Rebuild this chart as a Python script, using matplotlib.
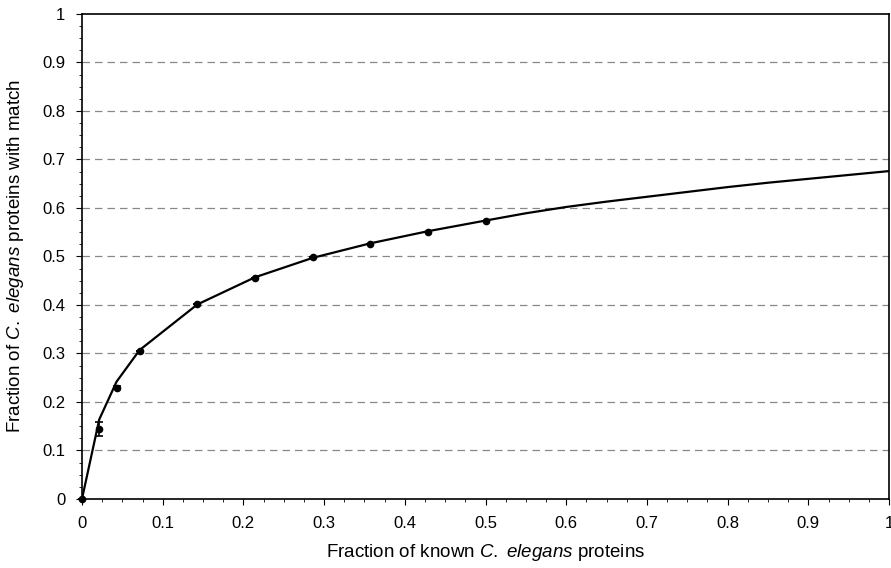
import numpy as np
import matplotlib
matplotlib.use("Agg")
import matplotlib.pyplot as plt
from matplotlib.ticker import MultipleLocator, FuncFormatter

# measured points (fraction of known proteins vs fraction with match)
pts_x = [0.0, 0.0214, 0.0429, 0.0714, 0.1429, 0.2143, 0.2857, 0.3571, 0.4286, 0.5]
pts_y = [0.0, 0.144, 0.229, 0.305, 0.401, 0.456, 0.498, 0.526, 0.551, 0.573]
pts_err = [0.0, 0.015, 0.003, 0.0, 0.0, 0.0, 0.0, 0.0, 0.0, 0.0]

# fitted curve
fit_x = [0.0, 0.0214, 0.0429, 0.0714, 0.1429, 0.2143, 0.2857, 0.3571, 0.4286, 0.5,
         0.55, 0.6, 0.65, 0.7, 0.75, 0.8, 0.85, 0.9, 0.95, 1.0]
fit_y = [0.0, 0.164, 0.242, 0.307, 0.401, 0.457, 0.497, 0.527, 0.552, 0.574,
         0.589, 0.602, 0.613, 0.623, 0.633, 0.643, 0.652, 0.660, 0.668, 0.676]

ticks = [0, 0.1, 0.2, 0.3, 0.4, 0.5, 0.6, 0.7, 0.8, 0.9, 1]


def main():
    plt.rcParams['font.family'] = ['Liberation Sans', 'DejaVu Sans']
    plt.rcParams['mathtext.fontset'] = 'custom'
    plt.rcParams['mathtext.rm'] = 'Liberation Sans'
    plt.rcParams['mathtext.it'] = 'Liberation Sans:italic'

    fig = plt.figure(figsize=(8.91, 5.68), dpi=100)
    ax = fig.add_axes([0.092, 0.1215, 0.9058, 0.854])

    # dashed grid lines
    for t in ticks[1:-1]:
        ax.axhline(t, color="#888888", lw=0.9, ls=(0, (6, 4)), zorder=1)

    ax.plot(fit_x, fit_y, color="black", lw=1.6, zorder=3)
    ax.errorbar(pts_x, pts_y, yerr=pts_err, fmt="o", color="black", ms=4.5,
                elinewidth=1.2, capsize=3, capthick=1.2, zorder=4, clip_on=False)

    ax.set_xlim(0, 1)
    ax.set_ylim(0, 1)
    ax.set_xticks(ticks)
    ax.set_yticks(ticks)
    fmt = FuncFormatter(lambda v, p: "%g" % v)
    ax.xaxis.set_major_formatter(fmt)
    ax.yaxis.set_major_formatter(fmt)
    ax.xaxis.set_minor_locator(MultipleLocator(0.025))
    ax.yaxis.set_minor_locator(MultipleLocator(0.025))
    ax.tick_params(which="major", direction="out", length=4, width=0.8,
                   labelsize=12, pad=8)
    ax.tick_params(which="minor", direction="out", length=2, width=0.6)

    for s in ax.spines.values():
        s.set_linewidth(1.2)

    ax.set_xlabel(r"Fraction of known $\mathit{C.}$ $\mathit{elegans}$ proteins",
                  fontsize=13.5, labelpad=8)
    ax.set_ylabel(r"Fraction of $\mathit{C.}$ $\mathit{elegans}$ proteins with match",
                  fontsize=13.5, labelpad=12)

    fig.savefig("out.png", dpi=100)


if __name__ == "__main__":
    main()
